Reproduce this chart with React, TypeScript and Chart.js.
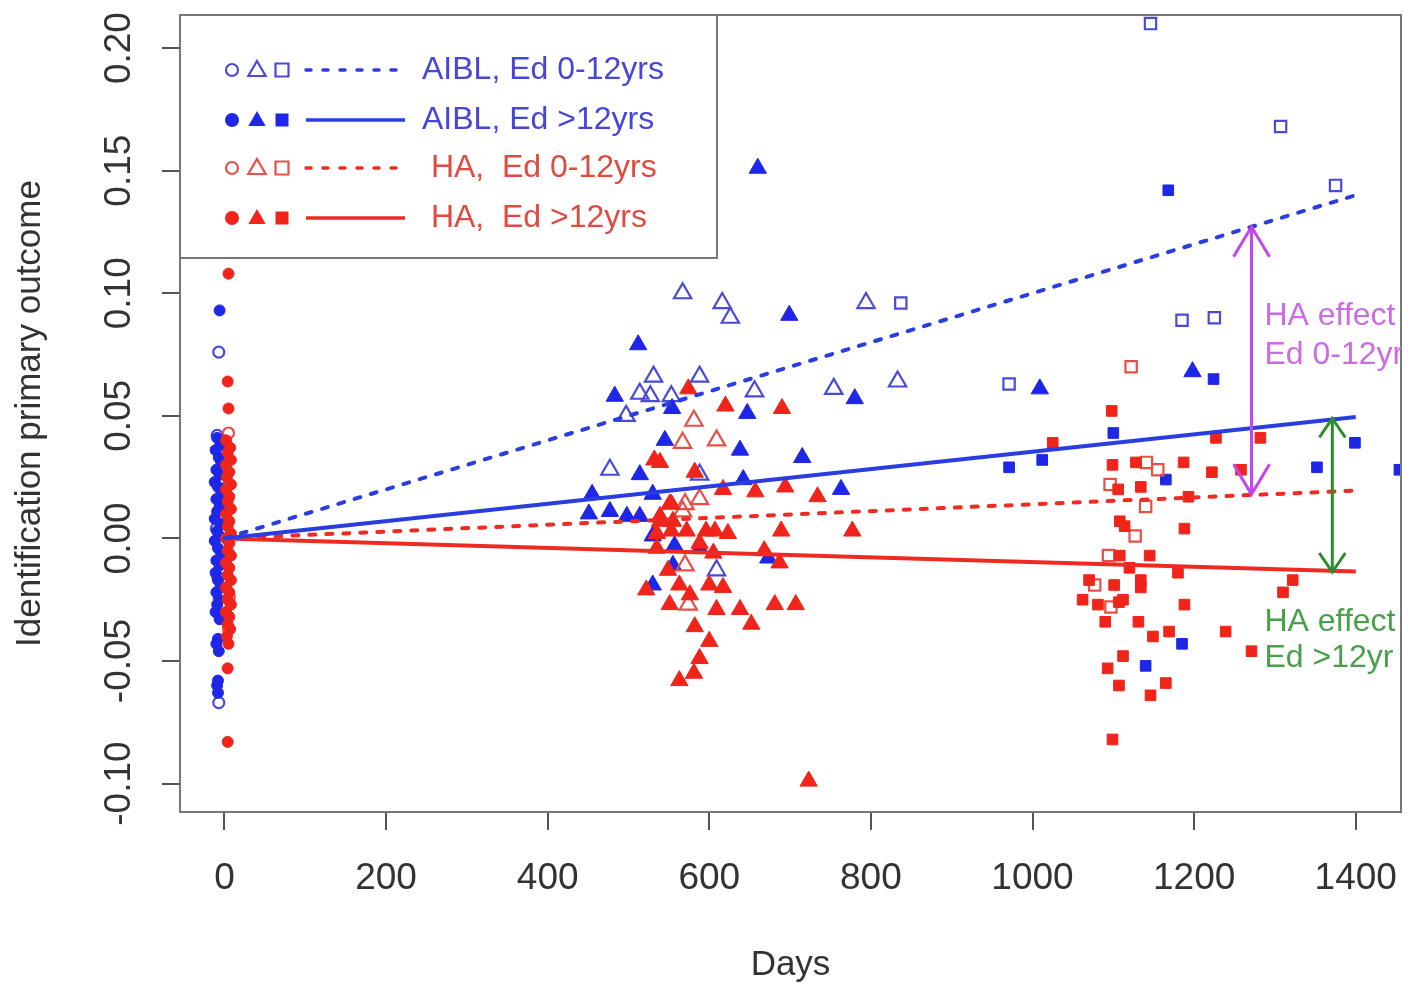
import React, { useEffect, useRef } from "react";
import { Chart, registerables } from "chart.js";

Chart.register(...registerables);

const FONT = "'Liberation Sans', Arial, Helvetica, sans-serif";

// ---------- data: [days, outcome] ----------
const aiblLowCirc: [number, number][] = [
  [-7, 0.076], [-9, 0.042], [-6, 0.024], [-10, 0.004], [-8, -0.016], [-6, -0.031], [-7, -0.067],
];
const aiblHighCirc: [number, number][] = [
  [-6, 0.093], [-9, 0.041], [-5, 0.038], [-11, 0.036], [-7, 0.033], [-4, 0.031], [-10, 0.028],
  [-6, 0.026], [-12, 0.023], [-8, 0.021], [-4, 0.018], [-10, 0.016], [-6, 0.013], [-9, 0.011],
  [-12, 0.008], [-5, 0.006], [-9, 0.003], [-6, 0.001], [-12, -0.001], [-8, -0.004], [-4, -0.006],
  [-10, -0.009], [-6, -0.011], [-11, -0.014], [-8, -0.017], [-5, -0.02], [-10, -0.022],
  [-7, -0.025], [-9, -0.027], [-11, -0.03], [-6, -0.033], [-8, -0.041], [-10, -0.043],
  [-7, -0.046], [-8, -0.058], [-9, -0.06], [-8, -0.063],
];
const haLowCirc: [number, number][] = [[5, 0.043], [6, -0.024], [5, -0.037]];
const haHighCirc: [number, number][] = [
  [5, 0.108], [4, 0.064], [5, 0.053], [2, 0.04], [7, 0.037], [4, 0.035], [8, 0.032], [2, 0.03],
  [6, 0.027], [3, 0.025], [8, 0.022], [2, 0.02], [6, 0.017], [4, 0.015], [8, 0.012], [2, 0.01],
  [6, 0.007], [4, 0.005], [8, 0.002], [2, 0.0], [6, -0.002], [4, -0.005], [8, -0.007],
  [2, -0.01], [6, -0.012], [4, -0.015], [8, -0.017], [2, -0.02], [6, -0.022], [4, -0.025],
  [8, -0.027], [2, -0.03], [6, -0.032], [4, -0.035], [7, -0.037], [3, -0.04], [5, -0.043],
  [4, -0.053], [4, -0.083],
];

const aiblLowTri: [number, number][] = [
  [567, 0.1], [616, 0.096], [626, 0.09], [794, 0.096], [531, 0.066], [588, 0.066], [514, 0.059],
  [527, 0.058], [553, 0.058], [656, 0.06], [754, 0.061], [833, 0.064], [497, 0.05], [477, 0.028],
  [588, 0.026], [609, -0.013],
];
const aiblHighTri: [number, number][] = [
  [660, 0.151], [699, 0.091], [512, 0.079], [483, 0.058], [554, 0.053], [647, 0.051],
  [780, 0.057], [545, 0.04], [638, 0.036], [715, 0.033], [514, 0.026], [642, 0.024],
  [530, 0.018], [455, 0.018], [763, 0.02], [451, 0.01], [477, 0.011], [498, 0.009], [514, 0.009],
  [530, 0.001], [557, -0.003], [588, -0.004], [555, -0.011], [673, -0.008], [530, -0.019],
  [1198, 0.068], [1009, 0.061],
];
const haLowTri: [number, number][] = [
  [581, 0.048], [567, 0.039], [609, 0.04], [588, 0.016], [567, 0.011], [570, 0.014],
  [570, -0.011], [574, -0.027],
];
const haHighTri: [number, number][] = [
  [574, 0.061], [620, 0.054], [690, 0.053], [532, 0.032], [539, 0.031], [582, 0.027],
  [617, 0.02], [657, 0.019], [694, 0.021], [734, 0.017], [553, 0.014], [539, 0.009], [551, 0.014],
  [539, 0.007], [555, 0.007], [535, 0.002], [553, 0.003], [572, 0.003], [596, 0.003],
  [607, 0.003], [623, 0.002], [689, 0.003], [777, 0.003], [535, -0.004], [588, -0.002],
  [605, -0.006], [668, -0.005], [687, -0.01], [549, -0.013], [522, -0.021], [563, -0.019],
  [600, -0.019], [617, -0.02], [576, -0.023], [551, -0.027], [609, -0.029], [638, -0.029],
  [681, -0.027], [707, -0.027], [652, -0.035], [582, -0.036], [600, -0.042], [588, -0.049],
  [581, -0.055], [563, -0.058], [723, -0.099],
];

const aiblLowSq: [number, number][] = [
  [1146, 0.21], [1307, 0.168], [1375, 0.144], [1185, 0.089], [1225, 0.09], [971, 0.063],
  [837, 0.096],
];
const aiblHighSq: [number, number][] = [
  [1168, 0.142], [1224, 0.065], [1100, 0.043], [1012, 0.032], [971, 0.029], [1165, 0.024],
  [1399, 0.039], [1352, 0.029], [1454, 0.028], [1185, -0.043], [1140, -0.052],
];
const haLowSq: [number, number][] = [
  [1122, 0.07], [1141, 0.031], [1155, 0.028], [1096, 0.022], [1140, 0.013], [1127, 0.001],
  [1094, -0.007], [1077, -0.019], [1097, -0.028],
];
const haHighSq: [number, number][] = [
  [1098, 0.052], [1025, 0.039], [1227, 0.041], [1282, 0.041], [1099, 0.03], [1128, 0.031],
  [1187, 0.031], [1222, 0.027], [1258, 0.028], [1106, 0.02], [1134, 0.021], [1193, 0.017],
  [1188, 0.004], [1108, 0.007], [1114, 0.005], [1108, -0.007], [1145, -0.007], [1120, -0.012],
  [1180, -0.014], [1322, -0.017], [1310, -0.022], [1070, -0.017], [1101, -0.019], [1134, -0.017],
  [1134, -0.02], [1062, -0.025], [1081, -0.027], [1107, -0.026], [1112, -0.025], [1188, -0.027],
  [1090, -0.034], [1131, -0.034], [1149, -0.04], [1169, -0.038], [1239, -0.038], [1271, -0.046],
  [1112, -0.048], [1093, -0.053], [1107, -0.06], [1165, -0.059], [1146, -0.064], [1099, -0.082],
];

// regression lines (days -> predicted outcome)
const fitDays = [0, 1400];
const aiblLowFit = [0, 0.14];
const aiblHighFit = [0, 0.0495];
const haLowFit = [0, 0.0195];
const haHighFit = [0, -0.0135];

// HA effect arrows
const effectDays = [1271, 1371];
const effectTop = [0.1271, 0.0489];
const effectBottom = [0.018, -0.0137];
const effectLabelDay = 1287;
const effectLabels = [["HA effect", "Ed 0-12yr"], ["HA effect", "Ed >12yr"]];
const effectLabelValues = [[0.0906, 0.0747], [-0.0343, -0.049]];

const legendLabels = ["AIBL, Ed 0-12yrs", "AIBL, Ed >12yrs", " HA,  Ed 0-12yrs", " HA,  Ed >12yrs"];

// axis
const xMin = -55, xMax = 1456, xStep = 200;
const yMin = -0.1116, yMax = 0.2135, yStep = 0.05;

// ---------- styles ----------
const BLUE = "#1e26e8";
const BLUE_OPEN = "#4a4ad8";
const RED = "#f0241a";
const RED_OPEN = "#e65048";
const BLUE_LINE = "#2a3de0";
const RED_LINE = "#ee2b22";
const MAGENTA = "#c644ec";
const MAGENTA_TXT = "#cc6ae8";
const GREEN = "#2e8c2e";
const GREEN_TXT = "#48a048";

const toPts = (arr: [number, number][]) => arr.map(([x, y]) => ({ x, y }));

function markerSet(label: string, arr: [number, number][], style: string, color: string, hollow: boolean, radius: number) {
  return {
    label,
    data: toPts(arr),
    pointStyle: style,
    pointRadius: radius,
    pointBackgroundColor: hollow ? "rgba(255,255,255,0)" : color,
    pointBorderColor: color,
    pointBorderWidth: hollow ? 2.2 : 1,
    showLine: false,
    clip: 0,
  };
}

function fitSet(label: string, vals: number[], color: string, dashed: boolean) {
  return {
    label,
    data: fitDays.map((d, i) => ({ x: d, y: vals[i] })),
    showLine: true,
    borderColor: color,
    borderWidth: 4,
    borderDash: dashed ? [6, 11] : [],
    borderCapStyle: dashed ? "round" : "butt",
    pointRadius: 0,
    fill: false,
    clip: 0,
  };
}

function drawSymbol(ctx: CanvasRenderingContext2D, kind: string, x: number, y: number, color: string, hollow: boolean) {
  ctx.beginPath();
  if (kind === "circle") {
    ctx.arc(x, y, hollow ? 6 : 7, 0, Math.PI * 2);
  } else if (kind === "triangle") {
    const r = 10;
    ctx.moveTo(x, y - r);
    ctx.lineTo(x + r * 0.866, y + r * 0.5);
    ctx.lineTo(x - r * 0.866, y + r * 0.5);
    ctx.closePath();
  } else {
    ctx.rect(x - 6.5, y - 6.5, 13, 13);
  }
  if (hollow) {
    ctx.strokeStyle = color;
    ctx.lineWidth = 2.2;
    ctx.stroke();
  } else {
    ctx.fillStyle = color;
    ctx.fill();
  }
}

function arrowHead(ctx: CanvasRenderingContext2D, x: number, y: number, dir: number, halfW: number, len: number) {
  ctx.beginPath();
  ctx.moveTo(x - halfW, y + dir * len);
  ctx.lineTo(x, y);
  ctx.lineTo(x + halfW, y + dir * len);
  ctx.stroke();
}

const decorPlugin = {
  id: "decor",
  afterDatasetsDraw(chart: any) {
    const { ctx, chartArea: a, scales } = chart;
    const xs = scales.x, ys = scales.y;
    ctx.save();
    // plot box
    ctx.strokeStyle = "#777";
    ctx.lineWidth = 2;
    ctx.strokeRect(a.left, a.top, a.right - a.left, a.bottom - a.top);

    // effect arrows
    const colors = [MAGENTA, GREEN];
    const txtColors = [MAGENTA_TXT, GREEN_TXT];
    const heads = [[18, 30], [13, 19]];
    effectDays.forEach((d, i) => {
      const px = xs.getPixelForValue(d);
      const y1 = ys.getPixelForValue(effectTop[i]);
      const y2 = ys.getPixelForValue(effectBottom[i]);
      ctx.strokeStyle = colors[i];
      ctx.lineWidth = 3;
      ctx.beginPath();
      ctx.moveTo(px, y1);
      ctx.lineTo(px, y2);
      ctx.stroke();
      arrowHead(ctx, px, y1, 1, heads[i][0], heads[i][1]);
      arrowHead(ctx, px, y2, -1, heads[i][0], heads[i][1]);
    });

    // effect labels, clipped to plot region
    ctx.save();
    ctx.beginPath();
    ctx.rect(a.left, a.top, a.right - a.left, a.bottom - a.top);
    ctx.clip();
    ctx.font = `32px ${FONT}`;
    ctx.textAlign = "left";
    ctx.textBaseline = "middle";
    effectLabels.forEach((lines, i) => {
      ctx.fillStyle = txtColors[i];
      lines.forEach((t, j) => {
        ctx.fillText(t, xs.getPixelForValue(effectLabelDay), ys.getPixelForValue(effectLabelValues[i][j]));
      });
    });
    ctx.restore();
    ctx.restore();
  },
  afterDraw(chart: any) {
    const { ctx, chartArea: a } = chart;
    ctx.save();
    const lx = a.left, ly = a.top, lw = 537, lh = 243;
    ctx.fillStyle = "#fff";
    ctx.fillRect(lx, ly, lw, lh);
    ctx.strokeStyle = "#777";
    ctx.lineWidth = 2;
    ctx.strokeRect(lx, ly, lw, lh);
    const rowY = [55, 105, 153, 203];
    const symCol = [BLUE_OPEN, BLUE, RED_OPEN, RED];
    const lineCol = [BLUE_LINE, BLUE_LINE, RED_LINE, RED_LINE];
    const txtCol = ["#4646d8", "#4646d8", "#e04a40", "#e04a40"];
    rowY.forEach((ry, i) => {
      const y = ly + ry;
      const hollow = i % 2 === 0;
      drawSymbol(ctx, "circle", lx + 52, y, symCol[i], hollow);
      drawSymbol(ctx, "triangle", lx + 77, y + 1, symCol[i], hollow);
      drawSymbol(ctx, "square", lx + 102, y, symCol[i], hollow);
      ctx.strokeStyle = lineCol[i];
      ctx.lineWidth = 3.5;
      ctx.setLineDash(hollow ? [5, 12] : []);
      ctx.lineCap = hollow ? "round" : "butt";
      ctx.beginPath();
      ctx.moveTo(lx + 126, y);
      ctx.lineTo(lx + 225, y);
      ctx.stroke();
      ctx.setLineDash([]);
      ctx.fillStyle = txtCol[i];
      ctx.font = `32px ${FONT}`;
      ctx.textAlign = "left";
      ctx.textBaseline = "middle";
      ctx.fillText(legendLabels[i], lx + 242, y);
    });
    ctx.restore();
  },
};

const noPad = (s: any) => {
  s.paddingLeft = 0;
  s.paddingRight = 0;
  s.paddingTop = 0;
  s.paddingBottom = 0;
};

export default function App() {
  const ref = useRef<HTMLCanvasElement>(null);
  useEffect(() => {
    document.body.style.margin = "0";
    const canvas = ref.current!;
    const datasets: any[] = [
      fitSet("AIBL, Ed 0-12yrs fit", aiblLowFit, BLUE_LINE, true),
      fitSet("AIBL, Ed >12yrs fit", aiblHighFit, BLUE_LINE, false),
      fitSet("HA, Ed 0-12yrs fit", haLowFit, RED_LINE, true),
      fitSet("HA, Ed >12yrs fit", haHighFit, RED_LINE, false),
      markerSet("HA >12 sq", haHighSq, "rect", RED, false, 7.5),
      markerSet("HA >12 tri", haHighTri, "triangle", RED, false, 10),
      markerSet("HA >12 circ", haHighCirc, "circle", RED, false, 5.5),
      markerSet("HA 0-12 sq", haLowSq, "rect", RED_OPEN, true, 8),
      markerSet("HA 0-12 tri", haLowTri, "triangle", RED_OPEN, true, 10),
      markerSet("HA 0-12 circ", haLowCirc, "circle", RED_OPEN, true, 5.5),
      markerSet("AIBL >12 sq", aiblHighSq, "rect", BLUE, false, 7.5),
      markerSet("AIBL >12 tri", aiblHighTri, "triangle", BLUE, false, 10),
      markerSet("AIBL >12 circ", aiblHighCirc, "circle", BLUE, false, 5.5),
      markerSet("AIBL 0-12 sq", aiblLowSq, "rect", BLUE_OPEN, true, 8),
      markerSet("AIBL 0-12 tri", aiblLowTri, "triangle", BLUE_OPEN, true, 10),
      markerSet("AIBL 0-12 circ", aiblLowCirc, "circle", BLUE_OPEN, true, 5.5),
    ];
    const chart = new Chart(canvas, {
      type: "scatter",
      data: { datasets },
      plugins: [decorPlugin],
      options: {
        animation: false,
        responsive: false,
        devicePixelRatio: 1,
        events: [],
        layout: { padding: { left: 0, top: 15, right: 16, bottom: 0 } },
        plugins: { legend: { display: false }, tooltip: { enabled: false } },
        scales: {
          x: {
            type: "linear",
            min: xMin,
            max: xMax,
            afterFit: (s: any) => { s.height = 185; noPad(s); },
            ticks: {
              stepSize: xStep,
              includeBounds: false,
              color: "#333",
              font: { family: FONT, size: 37 },
              padding: 27,
              maxRotation: 0,
              autoSkip: false,
              callback: (v: any) => String(v),
            },
            grid: { drawOnChartArea: false, drawTicks: true, tickLength: 18, color: "#555", lineWidth: 2 },
            border: { display: true, color: "#555", width: 2 },
            title: {
              display: true,
              text: "Days",
              color: "#333",
              font: { family: FONT, size: 35 },
              padding: { top: 0, bottom: 11 },
            },
          },
          y: {
            type: "linear",
            min: yMin,
            max: yMax,
            afterFit: (s: any) => { s.width = 180; noPad(s); },
            ticks: {
              stepSize: yStep,
              includeBounds: false,
              color: "#333",
              font: { family: FONT, size: 37 },
              minRotation: 90,
              maxRotation: 90,
              crossAlign: "center",
              padding: 0,
              autoSkip: false,
              callback: (v: any) => Number(v).toFixed(2),
            },
            grid: { drawOnChartArea: false, drawTicks: true, tickLength: 18, color: "#555", lineWidth: 2 },
            border: { display: true, color: "#555", width: 2 },
            title: {
              display: true,
              text: "Identification primary outcome",
              color: "#333",
              font: { family: FONT, size: 35 },
              padding: { top: 9, bottom: 0 },
            },
          },
        },
      } as any,
    });
    return () => chart.destroy();
  }, []);
  return (
    <div style={{ width: 1417, height: 997 }}>
      <canvas ref={ref} width={1417} height={997} style={{ display: "block", width: 1417, height: 997 }} />
    </div>
  );
}
